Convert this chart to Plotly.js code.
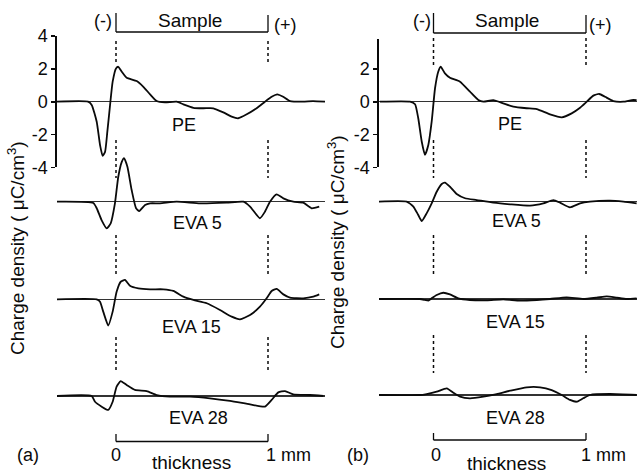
<!DOCTYPE html>
<html>
<head>
<meta charset="utf-8">
<script src="https://cdn.plot.ly/plotly-3.0.1.min.js"></script>
<style>html,body{margin:0;padding:0;background:#fff;}#chart{width:637px;height:473px;}</style>
</head>
<body>
<div id="chart"></div>
<script>
// ---------- data (thickness in mm, charge density in µC/cm³) ----------
// Panel (a)
const peXa   = [-0.388,-0.184,-0.160,-0.127,-0.105,-0.088,-0.072,-0.057,-0.039,-0.022,0.000,0.015,0.038,0.070,0.136,0.180,0.224,0.268,0.322,0.399,0.443,0.509,0.574,0.640,0.706,0.761,0.804,0.860,0.925,0.980,1.024,1.061,1.100,1.145,1.230,1.296,1.375];
const peYa   = [0,0,-0.2,-1.22,-2.64,-3.3,-3.06,-1.83,-0.2,1.22,2.03,2.13,1.83,1.46,1.26,0.91,0.45,0.04,-0.04,0,-0.16,-0.37,-0.40,-0.40,-0.65,-0.91,-1.01,-0.77,-0.40,0,0.30,0.45,0.30,0.04,0,0.04,0];
const eva5Xa = [-0.389,-0.149,-0.127,-0.095,-0.061,-0.035,-0.007,0.015,0.038,0.053,0.075,0.103,0.132,0.153,0.191,0.224,0.289,0.399,0.553,0.728,0.838,0.882,0.947,0.980,1.013,1.057,1.101,1.166,1.232,1.287,1.337];
const eva5Ya = [0,-0.08,-0.40,-1.12,-1.63,-1.32,-0.10,1.52,2.43,2.66,2.13,0.71,-0.40,-0.57,-0.20,-0.10,-0.10,0,-0.10,-0.06,0,-0.30,-1.01,-0.61,0,0.45,0.20,0,-0.06,-0.40,-0.30];
const eva15Xa = [-0.389,-0.127,-0.105,-0.084,-0.051,-0.022,0.004,0.031,0.059,0.092,0.147,0.224,0.311,0.377,0.443,0.509,0.597,0.684,0.761,0.816,0.882,0.947,0.991,1.024,1.057,1.101,1.145,1.232,1.298,1.337];
const eva15Ya = [0,0,-0.15,-0.75,-1.6,-0.75,0.46,1.07,1.18,0.83,0.67,0.61,0.61,0.51,0.16,-0.04,-0.24,-0.65,-1.06,-1.22,-0.96,-0.45,0.06,0.51,0.63,0.30,0.10,0.06,0.16,0.30];
const eva28Xa = [-0.389,-0.160,-0.138,-0.094,-0.051,-0.022,0.004,0.031,0.070,0.125,0.202,0.268,0.355,0.487,0.618,0.750,0.882,0.980,1.024,1.068,1.112,1.166,1.276,1.364];
const eva28Ya = [0,0,-0.35,-0.65,-0.85,-0.35,0.57,0.91,0.67,0.37,0.30,0.06,-0.04,-0.04,-0.14,-0.30,-0.51,-0.65,-0.24,0.22,0.30,0.10,0.06,0];
// Panel (b)
const peXb   = [-0.351,-0.154,-0.121,-0.100,-0.077,-0.056,-0.034,-0.012,0.010,0.031,0.047,0.075,0.108,0.174,0.239,0.294,0.327,0.392,0.457,0.523,0.611,0.677,0.764,0.841,0.906,0.961,1.005,1.048,1.087,1.125,1.179,1.245,1.300,1.332];
const peYb   = [0,0,-0.16,-1.01,-2.44,-3.24,-2.64,-1.22,0.82,1.83,2.13,1.73,1.46,1.22,0.61,0.10,0,0.09,-0.10,-0.30,-0.40,-0.45,-0.77,-0.95,-0.71,-0.37,0,0.37,0.47,0.30,0.04,0,0.10,0.10];
const eva5Xb = [-0.362,-0.176,-0.132,-0.100,-0.077,-0.045,-0.012,0.021,0.054,0.075,0.108,0.152,0.207,0.283,0.392,0.502,0.633,0.720,0.786,0.830,0.895,0.961,1.026,1.157,1.245,1.332];
const eva5Yb = [0,0,-0.30,-0.81,-1.18,-0.71,-0.10,0.61,1.08,1.16,0.91,0.47,0.21,0.10,-0.06,-0.16,-0.24,-0.10,0.10,-0.06,-0.34,-0.10,0,0.06,0,-0.10];
const eva15Xb = [-0.362,-0.089,-0.056,-0.034,-0.012,0.021,0.064,0.108,0.163,0.239,0.349,0.458,0.567,0.677,0.764,0.873,0.982,1.070,1.136,1.202,1.267,1.332];
const eva15Yb = [0,0,-0.06,-0.10,0.04,0.24,0.38,0.28,0.04,-0.06,-0.08,-0.02,-0.10,-0.06,0,0.10,0,0.08,0.16,0.08,0,0.04];
const eva28Xb = [-0.362,-0.089,-0.045,0.021,0.087,0.130,0.174,0.239,0.327,0.414,0.502,0.611,0.699,0.775,0.841,0.895,0.939,0.982,1.026,1.157,1.332];
const eva28Yb = [0,0,0.06,0.20,0.41,0.14,-0.10,-0.20,-0.10,0.06,0.26,0.47,0.47,0.30,0,-0.30,-0.41,-0.20,0,0.06,0];

const tickVals = [-4,-2,0,2,4];
const tickText = ['-4','-2','0','2','4'];
const sampleNames = ['PE','EVA 5','EVA 15','EVA 28'];

// ---------- layout helpers ----------
const W = 637, H = 473, K = 16.4;
const FONT = 'Liberation Sans, Arial, Helvetica, sans-serif';
const INK = '#0a0a0a';
const px = x => x / W;
const py = y => 1 - y / H;
function dom(base, lo, hi) { return [py(base - lo * K), py(base - hi * K)]; }

const lineStyle = {color: INK, width: 1.8, shape: 'spline', smoothing: 0.5};
function tr(x, y, xa, ya) {
  return {x: x, y: y, xaxis: xa, yaxis: ya, type: 'scatter', mode: 'lines', line: lineStyle, hoverinfo: 'skip', showlegend: false};
}
const data = [
  tr(peXa, peYa, 'x', 'y'), tr(eva5Xa, eva5Ya, 'x', 'y2'), tr(eva15Xa, eva15Ya, 'x', 'y3'), tr(eva28Xa, eva28Ya, 'x', 'y4'),
  tr(peXb, peYb, 'x2', 'y5'), tr(eva5Xb, eva5Yb, 'x2', 'y6'), tr(eva15Xb, eva15Yb, 'x2', 'y7'), tr(eva28Xb, eva28Yb, 'x2', 'y8')
];

function hiddenY(anchor, base) {
  return {anchor: anchor, domain: dom(base, -2.4, 3.0), range: [-2.4, 3.0], showline: false, showgrid: false,
    showticklabels: false, ticks: '', zeroline: true, zerolinecolor: '#333', zerolinewidth: 1.2, fixedrange: true};
}
function shownY(anchor, base, top) {
  return {anchor: anchor, domain: dom(base, -4, top), range: [-4, top], showline: true, linecolor: INK, linewidth: 1.6,
    showgrid: false, ticks: 'outside', ticklen: 4, tickwidth: 1.6, tickcolor: INK, tickmode: 'array',
    tickvals: tickVals, ticktext: tickText, tickfont: {family: FONT, size: 18, color: INK},
    zeroline: true, zerolinecolor: '#333', zerolinewidth: 1.2, fixedrange: true};
}
function hiddenX(l, r, zeroPx, perMm) {
  return {domain: [px(l), px(r)], range: [(l - zeroPx) / perMm, (r - zeroPx) / perMm], visible: false, fixedrange: true};
}

const shapes = [];
function seg(xa, xv, y0, y1, dash) {
  shapes.push({type: 'line', xref: xa, yref: 'paper', x0: xv, x1: xv, y0: py(y0), y1: py(y1),
    line: {color: INK, width: dash ? 1.5 : 1.3, dash: dash ? 'dot' : 'solid'}});
}
function hseg(xa, y) {
  shapes.push({type: 'line', xref: xa, yref: 'paper', x0: 0, x1: 1, y0: py(y), y1: py(y), line: {color: INK, width: 1.3}});
}
// dotted electrode markers
[[41,65],[140,178],[235,275],[337,373]].forEach(s => { seg('x', 0, s[0], s[1], true); seg('x', 1, s[0], s[1], true); });
[[38,67],[140,178],[235,275],[335,373]].forEach(s => { seg('x2', 0, s[0], s[1], true); seg('x2', 1, s[0], s[1], true); });
// "Sample" brackets
hseg('x', 32); seg('x', 0, 13, 32); seg('x', 1, 15, 32);
hseg('x2', 33); seg('x2', 0, 13, 33); seg('x2', 1, 15, 33);
// thickness scale brackets
hseg('x', 441.5); seg('x', 0, 434, 441.5); seg('x', 1, 434, 441.5);
hseg('x2', 440); seg('x2', 0, 433, 440); seg('x2', 1, 433, 440);

const annotations = [];
function txt(t, x, y, size, angle) {
  annotations.push({text: t, xref: 'paper', yref: 'paper', x: px(x), y: py(y), xanchor: 'center', yanchor: 'middle',
    showarrow: false, textangle: angle || 0, font: {family: FONT, size: size || 18, color: INK}});
}
// panel (a)
txt('(-)', 103, 21); txt('Sample', 190, 20, 19); txt('(+)', 285, 25);
txt(sampleNames[0], 184, 125); txt(sampleNames[1], 197, 223); txt(sampleNames[2], 191, 327); txt(sampleNames[3], 198, 418);
txt('(a)', 28, 455); txt('0', 116, 455); txt('thickness', 192, 462, 19); txt('1 mm', 288, 455);
txt('Charge density ( μC/cm<sup>3</sup>)', 16, 248, 19, -90);
// panel (b)
txt('(-)', 422, 21); txt('Sample', 507, 20, 19); txt('(+)', 600, 25);
txt(sampleNames[0], 510, 124); txt(sampleNames[1], 516, 221); txt(sampleNames[2], 515, 322); txt(sampleNames[3], 515, 418);
txt('(b)', 358, 455); txt('0', 436, 455); txt('thickness', 506, 463, 19); txt('1 mm', 603, 455);
txt('Charge density ( μC/cm<sup>3</sup>)', 336, 242, 19, -90);

const layout = {
  width: W, height: H, margin: {l: 0, r: 0, t: 0, b: 0}, paper_bgcolor: '#fff', plot_bgcolor: 'rgba(0,0,0,0)',
  showlegend: false, font: {family: FONT, color: INK},
  xaxis: hiddenX(57, 325, 116, 152),
  xaxis2: hiddenX(379, 637, 433.5, 152.5),
  yaxis: shownY('x', 101.7, 4),
  yaxis2: hiddenY('x', 201.7),
  yaxis3: hiddenY('x', 299.3),
  yaxis4: hiddenY('x', 396),
  yaxis5: shownY('x2', 101.7, 3.8),
  yaxis6: hiddenY('x2', 201.7),
  yaxis7: hiddenY('x2', 299),
  yaxis8: hiddenY('x2', 395),
  shapes: shapes, annotations: annotations
};
Plotly.newPlot('chart', data, layout, {staticPlot: true, displayModeBar: false});
</script>
</body>
</html>
